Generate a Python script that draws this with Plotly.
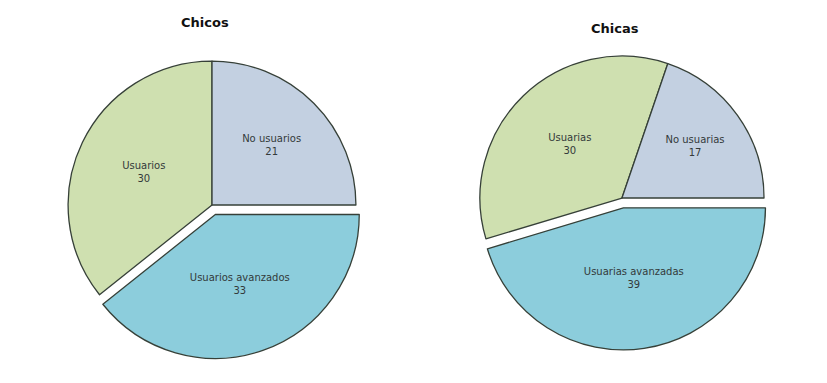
import plotly.graph_objects as go

# slice order: starts at 3 o'clock, going clockwise
CHICOS_LABELS = ['Usuarios avanzados', 'Usuarios', 'No usuarios']
CHICOS_VALUES = [33, 30, 21]
CHICAS_LABELS = ['Usuarias avanzadas', 'Usuarias', 'No usuarias']
CHICAS_VALUES = [39, 30, 17]
PULL = [0.07, 0, 0]

COLOURS = ['#8ccddc', '#cfe0b0', '#c3d0e1']

def pie(labels, values, domain):
  return go.Pie(labels = labels, values = values, domain = domain,
                sort = False, direction = 'clockwise', rotation = 90,
                pull = PULL, marker = dict(colors = COLOURS, line = dict(color = '#364038', width = 1.3)),
                texttemplate = '%{label}<br>%{value}', textposition = 'inside',
                insidetextorientation = 'horizontal',
                textfont = dict(family = 'DejaVu Sans', size = 10, color = '#333a3a'),
                hoverinfo = 'label+value', showlegend = False)

fig = go.Figure()
fig.add_trace(pie(CHICOS_LABELS, CHICOS_VALUES, dict(x = [0.0605, 0.4329], y = [0.0836, 0.8877])))
fig.add_trace(pie(CHICAS_LABELS, CHICAS_VALUES, dict(x = [0.5586, 0.9262], y = [0.107, 0.9008])))

#Titles above each pie (page body adds an 8px offset)
for text, x, y in ('Chicos', 197, 15), ('Chicas', 607, 20):
  fig.add_annotation(text = f'<b>{text}</b>', x = x / 827, y = 1 - y / 383,
                     xref = 'paper', yref = 'paper', xanchor = 'center', yanchor = 'middle',
                     showarrow = False,
                     font = dict(family = 'DejaVu Sans', size = 13, color = '#111111'))

fig.update_layout(width = 827, height = 383, margin = dict(l = 0, r = 0, t = 0, b = 0),
                  paper_bgcolor = 'white', plot_bgcolor = 'white')
fig.write_html('out.html')
